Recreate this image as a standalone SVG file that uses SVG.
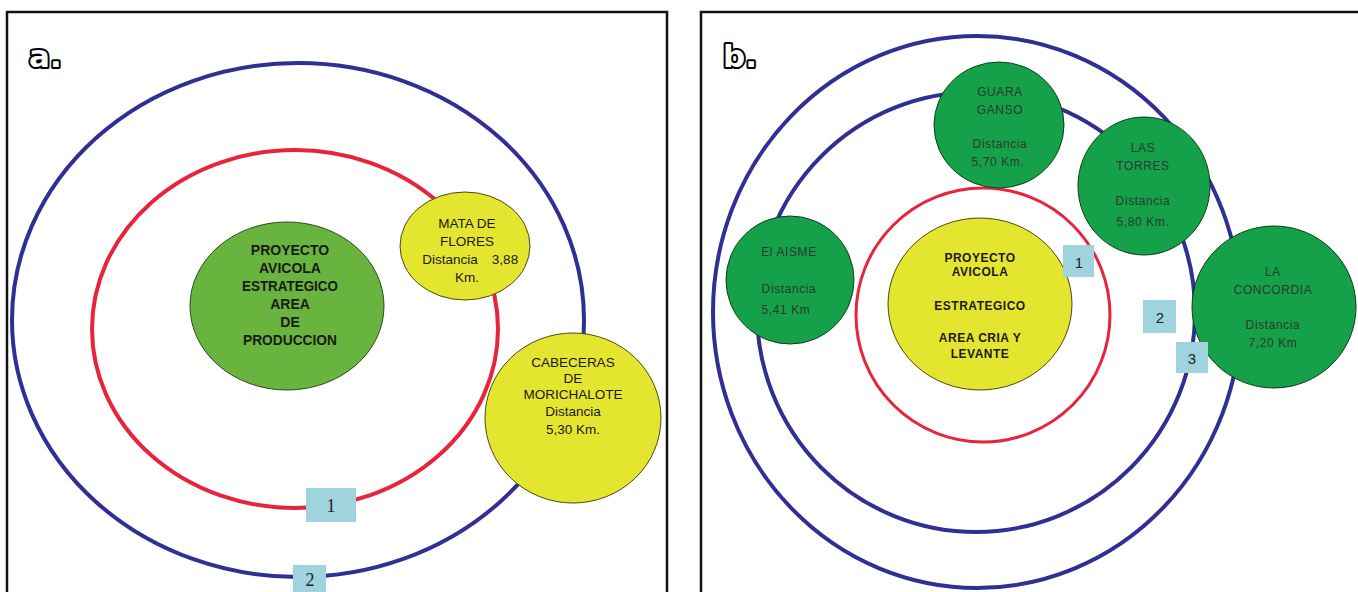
<svg xmlns="http://www.w3.org/2000/svg" width="1358" height="592" viewBox="0 0 1358 592">
<style>
.frame{fill:#fff;stroke:#111;stroke-width:2.5}
.blue{fill:none;stroke:#2f2f94;stroke-width:4}
.red{fill:none;stroke:#e8243c;stroke-width:4}
.ga{fill:#68b43e;stroke:#2d4a1a;stroke-width:1}
.ya{fill:#e4e52e;stroke:#4a4a10;stroke-width:1}
.gb{fill:#15a04a;stroke:#0c3d1c;stroke-width:1}
.box{fill:#9fd4de}
.tb{font-family:"Liberation Sans",Arial,sans-serif;font-weight:bold;fill:#1a1a1a;text-anchor:middle}
.tr{font-family:"Liberation Sans",Arial,sans-serif;fill:#1a1a1a;text-anchor:middle}
.tl{font-family:"Liberation Sans",Arial,sans-serif;fill:#2a3a2c;text-anchor:middle;font-size:12px;letter-spacing:0.6px}
.num{font-family:"Liberation Serif","Times New Roman",serif;font-size:18px;fill:#222;text-anchor:middle}
.numb{font-family:"Liberation Sans",Arial,sans-serif;font-size:15px;fill:#222;text-anchor:middle}
.lab{font-family:"DejaVu Sans",sans-serif;font-weight:bold;font-size:31px;fill:#fff;stroke:#000;stroke-width:4;paint-order:stroke;stroke-linejoin:round}
</style>
<rect class="frame" x="7" y="12" width="660" height="590"/>
<rect class="frame" x="701" y="12" width="665" height="590"/>
<text class="lab" x="29" y="67">a.</text>
<text class="lab" x="723" y="67">b.</text>
<g id="connectors">
<ellipse class="blue" cx="298" cy="320" rx="286" ry="257"/>
<ellipse class="red" cx="295" cy="329" rx="203" ry="179"/>
<ellipse class="blue" cx="977" cy="312" rx="264" ry="276"/>
<ellipse class="blue" cx="976" cy="312" rx="219" ry="220"/>
<ellipse class="red" cx="983" cy="315" rx="127" ry="127" style="stroke-width:3"/>
</g>
<g id="a-center">
<ellipse class="ga" cx="287" cy="306" rx="97" ry="84"/>
<text class="tb" font-size="14"><tspan x="290" y="255">PROYECTO</tspan><tspan x="290" y="273">AVICOLA</tspan><tspan x="290" y="291" textLength="96" lengthAdjust="spacingAndGlyphs">ESTRATEGICO</tspan><tspan x="290" y="309">AREA</tspan><tspan x="290" y="327">DE</tspan><tspan x="290" y="345" textLength="94" lengthAdjust="spacingAndGlyphs">PRODUCCION</tspan></text>
</g>
<g id="a-mata">
<ellipse class="ya" cx="465" cy="246" rx="65" ry="54"/>
<text class="tr" font-size="13.5"><tspan x="467" y="228">MATA DE</tspan><tspan x="467" y="246">FLORES</tspan><tspan x="450" y="264">Distancia</tspan><tspan x="505" y="264">3,88</tspan><tspan x="467" y="282">Km.</tspan></text>
</g>
<g id="a-cabeceras">
<ellipse class="ya" cx="573" cy="418" rx="88" ry="85"/>
<text class="tr" font-size="13.5"><tspan x="573" y="367">CABECERAS</tspan><tspan x="573" y="383">DE</tspan><tspan x="573" y="399">MORICHALOTE</tspan><tspan x="573" y="416">Distancia</tspan><tspan x="573" y="434">5,30 Km.</tspan></text>
</g>
<g id="a-label1"><rect class="box" x="306" y="488" width="50" height="34"/><text class="num" x="331" y="512">1</text></g>
<g id="a-label2"><rect class="box" x="293" y="565" width="33" height="30"/><text class="num" x="310" y="586">2</text></g>
<g id="b-center">
<ellipse class="ya" cx="980" cy="304" rx="92" ry="86"/>
<text class="tb" font-size="12" letter-spacing="0.5"><tspan x="980" y="262">PROYECTO</tspan><tspan x="980" y="276">AVICOLA</tspan><tspan x="980" y="310">ESTRATEGICO</tspan><tspan x="980" y="342">AREA CRIA Y</tspan><tspan x="980" y="358">LEVANTE</tspan></text>
</g>
<g id="b-aisme">
<ellipse class="gb" cx="790" cy="280" rx="64" ry="64"/>
<text class="tl"><tspan x="789" y="256">El AISME</tspan><tspan x="789" y="293">Distancia</tspan><tspan x="786" y="314">5,41 Km</tspan></text>
</g>
<g id="b-guara">
<ellipse class="gb" cx="999" cy="125" rx="65" ry="63"/>
<text class="tl"><tspan x="1000" y="96">GUARA</tspan><tspan x="1000" y="114">GANSO</tspan><tspan x="1000" y="148">Distancia</tspan><tspan x="998" y="166">5,70 Km.</tspan></text>
</g>
<g id="b-torres">
<ellipse class="gb" cx="1144" cy="186" rx="66" ry="69"/>
<text class="tl"><tspan x="1143" y="152">LAS</tspan><tspan x="1143" y="170">TORRES</tspan><tspan x="1143" y="205">Distancia</tspan><tspan x="1143" y="226">5,80 Km.</tspan></text>
</g>
<g id="b-concordia">
<ellipse class="gb" cx="1274" cy="307" rx="82" ry="81"/>
<text class="tl"><tspan x="1273" y="276">LA</tspan><tspan x="1273" y="294">CONCORDIA</tspan><tspan x="1273" y="329">Distancia</tspan><tspan x="1273" y="347">7,20 Km</tspan></text>
</g>
<g id="b-label1"><rect class="box" x="1063" y="245" width="31" height="32"/><text class="numb" x="1079" y="268">1</text></g>
<g id="b-label2"><rect class="box" x="1143" y="300" width="33" height="33"/><text class="numb" x="1160" y="323">2</text></g>
<g id="b-label3"><rect class="box" x="1176" y="342" width="32" height="31"/><text class="numb" x="1192" y="364">3</text></g>
</svg>
